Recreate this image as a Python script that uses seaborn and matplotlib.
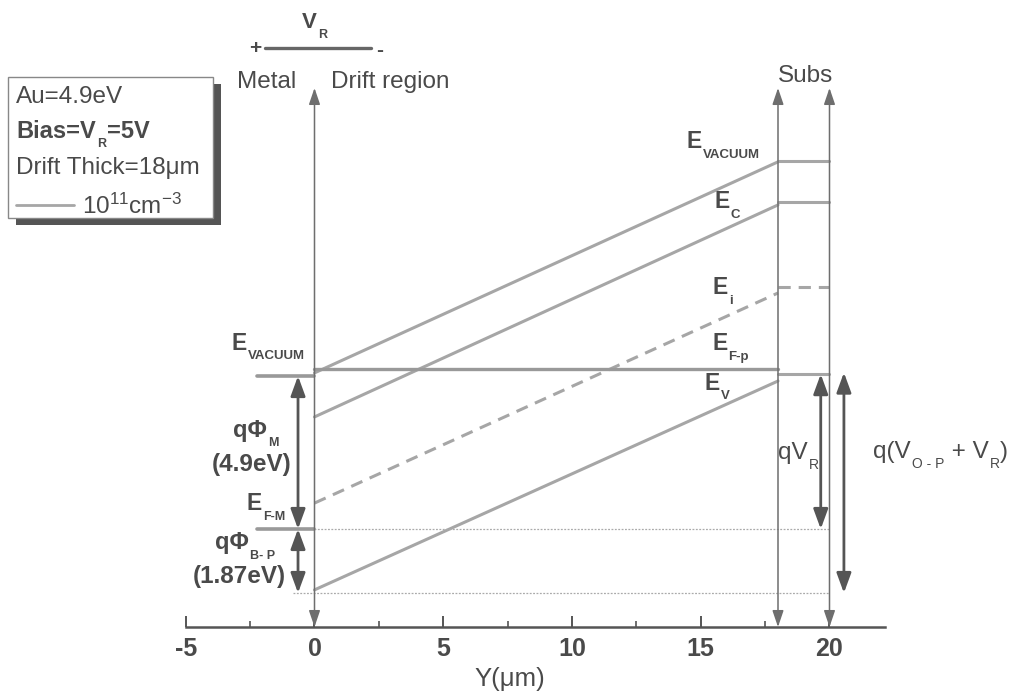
import matplotlib
matplotlib.use("Agg")
import matplotlib.pyplot as plt
import seaborn as sns
from matplotlib.patches import Rectangle
from matplotlib.lines import Line2D

# ---------------- data (energies in eV, metal Fermi level = 0) ----------------
boundaries = [0, 18, 20]                 # metal/drift, drift/substrate, substrate end (um)
x_drift = [0, 18]
x_subs = [18, 20]
E_vacuum_drift = [5.00, 11.76]
E_vacuum_subs = [11.80, 11.80]
E_c_drift = [3.59, 10.38]
E_c_subs = [10.48, 10.48]
E_i_drift = [0.83, 7.56]
E_i_subs = [7.75, 7.75]
E_v_drift = [-1.95, 4.74]
E_v_subs = [4.96, 4.96]
E_fp_drift = [5.12, 5.12]
metal_x = [-2.23, 0]
E_vacuum_metal = 4.90
E_f_metal = 0.0
E_v_edge = -2.05
x_ticks_major = [-5, 0, 5, 10, 15, 20]
x_ticks_minor = [-2.5, 2.5, 7.5, 12.5, 17.5]

# ---------------- style ----------------
sns.set_style("white")
plt.rcParams["font.family"] = ["Liberation Sans", "DejaVu Sans"]
plt.rcParams["mathtext.fontset"] = "custom"
plt.rcParams["mathtext.rm"] = "Liberation Sans"
plt.rcParams["mathtext.it"] = "Liberation Sans"
plt.rcParams["mathtext.bf"] = "Liberation Sans:bold"

W, H = 1012, 693
TXT = "#4a4a4a"
BAND = "#a6a6a6"
ARR = "#6e6e6e"
DARR = "#555555"

fig = plt.figure(figsize=(W / 100, H / 100), dpi=100)
# axes span full width; x scale: 0 um at 314.5 px, 25.75 px/um ; y: E=0 at 529 px, 31.22 px/eV
ax = fig.add_axes([0, (H - 627) / H, 1, 627 / H])
ax.set_xlim(-314.5 / 25.75, (W - 314.5) / 25.75)
ax.set_ylim((529 - 627) / 31.22, 529 / 31.22)
ax.patch.set_alpha(0)


def T(px, py, s, size, weight="normal", color=TXT, ha="left", va="center", **kw):
    return fig.text(px / W, 1 - py / H, s, fontsize=size, fontweight=weight, color=color,
                    ha=ha, va=va, **kw)


def chain(px, py, parts, color=TXT):
    """parts: list of (text, size, weight, kind) kind in main/sub"""
    s0, size0, w0, _ = parts[0]
    main = T(px, py, s0, size0, weight=w0, color=color)
    prev = main
    for s, size, w, kind in parts[1:]:
        if kind == "sub":
            a = ax.annotate(s, xy=(1, -0.06), xycoords=(prev, main), xytext=(0.8, 0),
                            textcoords="offset points", fontsize=size, fontweight=w,
                            color=color, ha="left", va="center", zorder=10)
        else:
            a = ax.annotate(s, xy=(1, 0), xycoords=(prev, main), xytext=(0.5, 0),
                            textcoords="offset points", fontsize=size, fontweight=w,
                            color=color, ha="left", va="bottom", zorder=10)
        prev = a
    return main


# ---------------- bands ----------------
lw_band = 2.2
sns.lineplot(x=x_drift, y=E_vacuum_drift, ax=ax, color=BAND, lw=lw_band)
sns.lineplot(x=x_subs, y=E_vacuum_subs, ax=ax, color=BAND, lw=lw_band)
sns.lineplot(x=x_drift, y=E_c_drift, ax=ax, color=BAND, lw=lw_band)
sns.lineplot(x=x_subs, y=E_c_subs, ax=ax, color=BAND, lw=lw_band)
sns.lineplot(x=x_drift, y=E_i_drift, ax=ax, color=BAND, lw=lw_band, linestyle=(0, (4, 2.6)))
sns.lineplot(x=x_subs, y=E_i_subs, ax=ax, color=BAND, lw=lw_band, linestyle=(0, (4, 2.6)))
sns.lineplot(x=x_drift, y=E_v_drift, ax=ax, color=BAND, lw=lw_band)
sns.lineplot(x=x_subs, y=E_v_subs, ax=ax, color=BAND, lw=lw_band)
sns.lineplot(x=x_drift, y=E_fp_drift, ax=ax, color="#999999", lw=2.4)
sns.lineplot(x=metal_x, y=[E_vacuum_metal] * 2, ax=ax, color="#999999", lw=2.6)
sns.lineplot(x=metal_x, y=[E_f_metal] * 2, ax=ax, color="#999999", lw=2.6)
# dotted reference levels
sns.lineplot(x=[boundaries[0], boundaries[2]], y=[E_f_metal] * 2, ax=ax, color="#aaaaaa",
             lw=0.9, linestyle=(0, (1.5, 1.2)))
sns.lineplot(x=[-0.83, boundaries[2]], y=[E_v_edge] * 2, ax=ax, color="#aaaaaa",
             lw=0.9, linestyle=(0, (1.5, 1.2)))

# ---------------- boundary arrows ----------------
y_top = (529 - 88) / 31.22
y_bot = ax.get_ylim()[0]
for b in boundaries:
    ax.annotate("", xy=(b, y_top), xytext=(b, y_bot),
                arrowprops=dict(arrowstyle="<|-|>,head_length=0.5,head_width=0.17",
                                color=ARR, lw=1.1, shrinkA=0, shrinkB=0, mutation_scale=20))


def darrow(x, y1, y2):
    ax.annotate("", xy=(x, y1), xytext=(x, y2),
                arrowprops=dict(arrowstyle="<|-|>,head_length=0.6,head_width=0.22",
                                color=DARR, lw=2.0, shrinkA=0, shrinkB=0, mutation_scale=20))


darrow(-0.64, E_vacuum_metal, E_f_metal)
darrow(-0.64, E_f_metal, E_v_edge)
darrow(19.66, E_v_subs[0], E_f_metal)
darrow(20.56, E_v_subs[0] + 0.05, E_v_edge)

# ---------------- x axis ----------------
for s in ["left", "right", "top"]:
    ax.spines[s].set_visible(False)
ax.spines["bottom"].set_bounds(-5, 22.15)
ax.spines["bottom"].set_color("#555555")
ax.spines["bottom"].set_linewidth(1.8)
ax.set_yticks([])
ax.set_xticks(x_ticks_major)
ax.set_xticks(x_ticks_minor, minor=True)
ax.set_xticklabels([str(t) for t in x_ticks_major])
ax.tick_params(axis="x", which="both", bottom=True, top=False)
ax.tick_params(axis="x", which="major", direction="in", length=8, width=1.4,
               color="#555555", labelsize=18, labelcolor=TXT, pad=7)
ax.tick_params(axis="x", which="minor", direction="in", length=4, width=1.2, color="#555555")
for lab in ax.get_xticklabels():
    lab.set_fontweight("bold")
T(510, 679, "Y(\u03bcm)", 18.5, ha="center")

# ---------------- top annotations ----------------
chain(302, 23, [("V", 16, "bold", "main"), ("R", 9, "bold", "sub")])
T(255, 48, "+", 15, weight="bold", ha="center")
fig.add_artist(Line2D([265 / W, 371 / W], [1 - 48 / H] * 2, color="#666666", lw=2.4))
T(380, 50, "-", 15, weight="bold", ha="center")
T(237, 82, "Metal", 17.5)
T(331, 82, "Drift region", 17.5)
T(778, 76, "Subs", 17.5)

# ---------------- legend box (drawn inside the axes layer, below the texts) ----------------
ax.add_patch(Rectangle((16 / W, 1 - 225 / H), 205 / W, 141 / H, transform=fig.transFigure,
                       facecolor="#555555", edgecolor="none", clip_on=False, zorder=0.5))
ax.add_patch(Rectangle((8 / W, 1 - 218 / H), 205 / W, 141 / H, transform=fig.transFigure,
                       facecolor="white", edgecolor="#888888", lw=1.0, clip_on=False,
                       zorder=0.6))
T(16, 97, "Au=4.9eV", 17.5)
chain(16, 131, [("Bias=V", 17, "bold", "main"), ("R", 9, "bold", "sub"),
                ("=5V", 17, "bold", "main")])
T(16, 168, "Drift Thick=18\u03bcm", 17.5)
fig.add_artist(Line2D([16 / W, 74 / W], [1 - 205 / H] * 2, color=BAND, lw=2.0))
T(82, 206, r"10$^{11}$cm$^{\mathregular{-3}}$", 17.5)

# ---------------- band labels (right) ----------------
chain(687, 142, [("E", 16.5, "bold", "main"), ("VACUUM", 9.5, "bold", "sub")])
chain(714, 202, [("E", 16.5, "bold", "main"), ("C", 9.5, "bold", "sub")])
chain(713, 288, [("E", 16.5, "bold", "main"), ("i", 9.5, "bold", "sub")])
chain(712, 344, [("E", 16.5, "bold", "main"), ("F-p", 9.5, "bold", "sub")])
chain(705, 383, [("E", 16.5, "bold", "main"), ("V", 9.5, "bold", "sub")])

# ---------------- left labels ----------------
chain(232, 343, [("E", 16.5, "bold", "main"), ("VACUUM", 9.5, "bold", "sub")])
chain(233, 430, [("q\u03a6", 17, "bold", "main"), ("M", 9, "bold", "sub")])
T(212, 465, "(4.9eV)", 17.5, weight="bold")
chain(247, 504, [("E", 16.5, "bold", "main"), ("F-M", 9, "bold", "sub")])
chain(215, 543, [("q\u03a6", 17, "bold", "main"), ("B- P", 9, "bold", "sub")])
T(193, 577, "(1.87eV)", 17.5, weight="bold")

# ---------------- right labels ----------------
chain(778, 453, [("qV", 17.5, "normal", "main"), ("R", 10, "normal", "sub")])
chain(873, 452, [("q(V", 17.5, "normal", "main"), ("O - P", 10, "normal", "sub"),
                 (" + V", 17.5, "normal", "main"), ("R", 10, "normal", "sub"),
                 (")", 17.5, "normal", "main")])

fig.savefig("out.png", dpi=100)
